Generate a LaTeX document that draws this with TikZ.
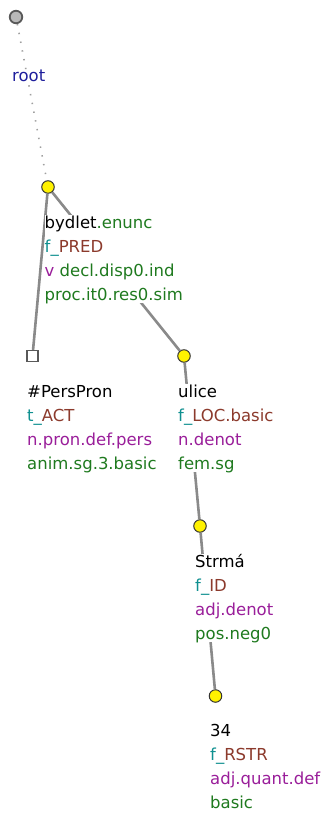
\documentclass[tikz,border=0pt]{standalone}
\usepackage{fontspec}
\setmainfont{DejaVu Sans}
\usepackage{tikz}
\usetikzlibrary{positioning}
\usepackage{xcolor}
\definecolor{colroot}{HTML}{1E1E9C}
\definecolor{colfn}{HTML}{0F9090}
\definecolor{colfa}{HTML}{8C3A2C}
\definecolor{colpos}{HTML}{9A1E9A}
\definecolor{colgram}{HTML}{1F7A1F}
\definecolor{coledge}{HTML}{8A8A8A}
\newcommand{\fnc}[2]{\textcolor{colfn}{#1\_}\textcolor{colfa}{#2}}

\begin{document}
\begin{tikzpicture}[x=1pt, y=-1pt,
    tnode/.style={circle, minimum size=12.5pt, inner sep=0pt, fill=yellow, draw=black!80, line width=1pt},
    rootnode/.style={circle, minimum size=12.5pt, inner sep=0pt, fill=gray!55, draw=black!65, line width=1.8pt},
    gennode/.style={rectangle, minimum size=11pt, inner sep=0pt, fill=white, draw=black!65, line width=1.3pt},
    lbl/.style={anchor=base west, align=left, inner sep=0pt, fill=white,
      font=\fontsize{16.5}{24}\selectfont},
    edge/.style={coledge, line width=2.6pt}]
    \useasboundingbox (0,0) rectangle (323,813);
    \node[rootnode] (r) at (16,17) {};
    \node[tnode] (n1) at (48,187) {};
    \node[gennode] (n2) at (32.5,356) {};
    \node[tnode] (n3) at (184,356) {};
    \node[tnode] (n4) at (200,526) {};
    \node[tnode] (n5) at (215.5,696) {};
    \draw[gray!75, line width=1.6pt, dash pattern=on 1.4pt off 7.5pt] (r) -- (n1);
    \foreach \s/\t in {n1/n2,n1/n3,n3/n4,n4/n5} \draw[edge] (\s) -- (\t);
    \node[lbl, text=colroot] (rl) at (12,82) {root};
    \node[lbl] (l1) at (44.5,300) {bydlet\textcolor{colgram}{.enunc}\\
      \fnc{f}{PRED}\\
      \textcolor{colpos}{v} \textcolor{colgram}{decl.disp0.ind}\\
      \textcolor{colgram}{proc.it0.res0.sim}};
    \node[lbl] (l2) at (27,469) {\#PersPron\\
      \fnc{t}{ACT}\\
      \textcolor{colpos}{n.pron.def.pers}\\
      \textcolor{colgram}{anim.sg.3.basic}};
    \node[lbl] (l3) at (178,469) {ulice\\
      \fnc{f}{LOC.basic}\\
      \textcolor{colpos}{n.denot}\\
      \textcolor{colgram}{fem.sg}};
    \node[lbl] (l4) at (195,639) {Strmá\\
      \fnc{f}{ID}\\
      \textcolor{colpos}{adj.denot}\\
      \textcolor{colgram}{pos.neg0}};
    \node[lbl] (l5) at (210,808) {34\\
      \fnc{f}{RSTR}\\
      \textcolor{colpos}{adj.quant.def}\\
      \textcolor{colgram}{basic}};
  \end{tikzpicture}
\end{document}
